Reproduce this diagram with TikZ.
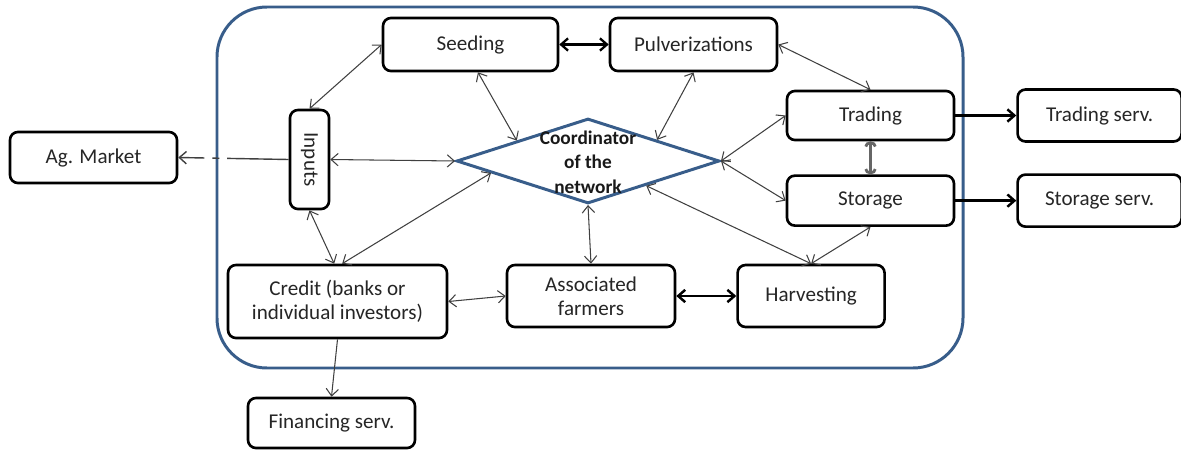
\documentclass[tikz,border=0pt]{standalone}
\usepackage{fontspec}
\setmainfont{Carlito}
\usetikzlibrary{positioning, calc, arrows.meta, shapes.geometric}
\definecolor{netblue}{RGB}{56,93,138}
\definecolor{linkgray}{RGB}{64,64,64}

\begin{document}
\begin{tikzpicture}[x=0.02cm, y=-0.02cm, node font=\fontsize{12}{13.5}\selectfont,
    >={Straight Barb[length=4pt,width=7pt]},
    box/.style={draw, rounded corners=4.5pt, line width=1.5pt, fill=white, align=center, inner sep=2pt, text=black!85},
    link/.style={<->, draw=linkgray, line width=0.6pt},
    flow/.style={->, draw=black, line width=1.4pt}]
    \useasboundingbox (0,0) rectangle (1181,450);
    \draw[netblue, line width=1.7pt, rounded corners=1cm] (217,7) rectangle (963,368);

    \node[box, minimum width=3.34cm, minimum height=1.02cm] (agm) at (93.5,157.5) {Ag. Market};
    \node[box, minimum width=0.78cm, minimum height=1.98cm, inner sep=0pt] (inp) at (309.5,159.5) {\rotatebox{-90}{Inputs}};
    \node[box, minimum width=3.5cm, minimum height=1.06cm] (seed) at (470.5,44.5) {Seeding};
    \node[box, minimum width=3.34cm, minimum height=1.06cm] (pulv) at (693.5,44.5) {Pulverizations};
    \node[diamond, draw=netblue, line width=1.7pt, fill=white, minimum width=5.26cm, minimum height=1.7cm, inner sep=0pt] (coord) at (588,161) {};
    \node[font=\fontsize{11}{14}\selectfont\bfseries, align=center, text=black!90] (coordtxt) at (588,162) {Coordinator\\of the\\network};
    \node[box, minimum width=3.34cm, minimum height=0.98cm] (trad) at (870.5,115.5) {Trading};
    \node[box, minimum width=3.34cm, minimum height=1cm, below=0.66cm of trad] (stor) {Storage};
    \node[box, minimum width=3.28cm, minimum height=1.04cm, right=1.22cm of trad] (trs) {Trading serv.};
    \node[box, minimum width=3.28cm, minimum height=1.04cm, right=1.22cm of stor] (sts) {Storage serv.};
    \node[box, minimum width=4.38cm, minimum height=1.46cm] (cred) at (337.5,301.5) {Credit (banks or\\individual investors)};
    \node[box, minimum width=3.36cm, minimum height=1.24cm] (assoc) at (591,296) {Associated\\farmers};
    \node[box, minimum width=2.94cm, minimum height=1.24cm, right=1.2cm of assoc] (harv) {Harvesting};
    \node[box, minimum width=3.34cm, minimum height=1cm] (fin) at (331.5,423) {Financing serv.};

    \draw[link] (inp.north) -- (seed.west);
    \draw[<->, line width=1.3pt] (seed.east) -- (pulv.west);
    \draw[link] (seed.-75) -- (coord.164);
    \draw[link] (pulv.south) -- (coord.17);
    \draw[link] (pulv.east) -- (trad.north);
    \draw[link] (inp.east) -- (coord.west);
    \draw[->, draw=linkgray, line width=0.8pt, dash pattern=on 35pt off 4.5pt on 4pt off 4.5pt on 30pt] (inp.west) -- (agm.east);
    \draw[link] (coord.east) -- (trad.west);
    \draw[link] (coord.east) -- (stor.west);
    \draw[{Arc Barb[length=3pt,width=7pt]}-{Arc Barb[length=3pt,width=7pt]}, draw=black!60, line width=1.6pt] (trad.south) -- (stor.north);
    \draw[flow] (trad.east) -- (trs.west);
    \draw[flow] (stor.east) -- (sts.west);
    \draw[link] (stor.south) -- (harv.north);
    \draw[link] (coord.-23) -- (harv.north);
    \draw[link] (coord.south) -- (assoc.north);
    \draw[link] (coord.187) -- (cred.83);
    \draw[link] (inp.south) -- (cred.95);
    \draw[link] (cred.east) -- (assoc.west);
    \draw[<->, line width=1.4pt] (assoc.east) -- (harv.west);
    \draw[->, draw=linkgray, line width=0.6pt] (cred.south) -- (fin.north);
\end{tikzpicture}
\end{document}
